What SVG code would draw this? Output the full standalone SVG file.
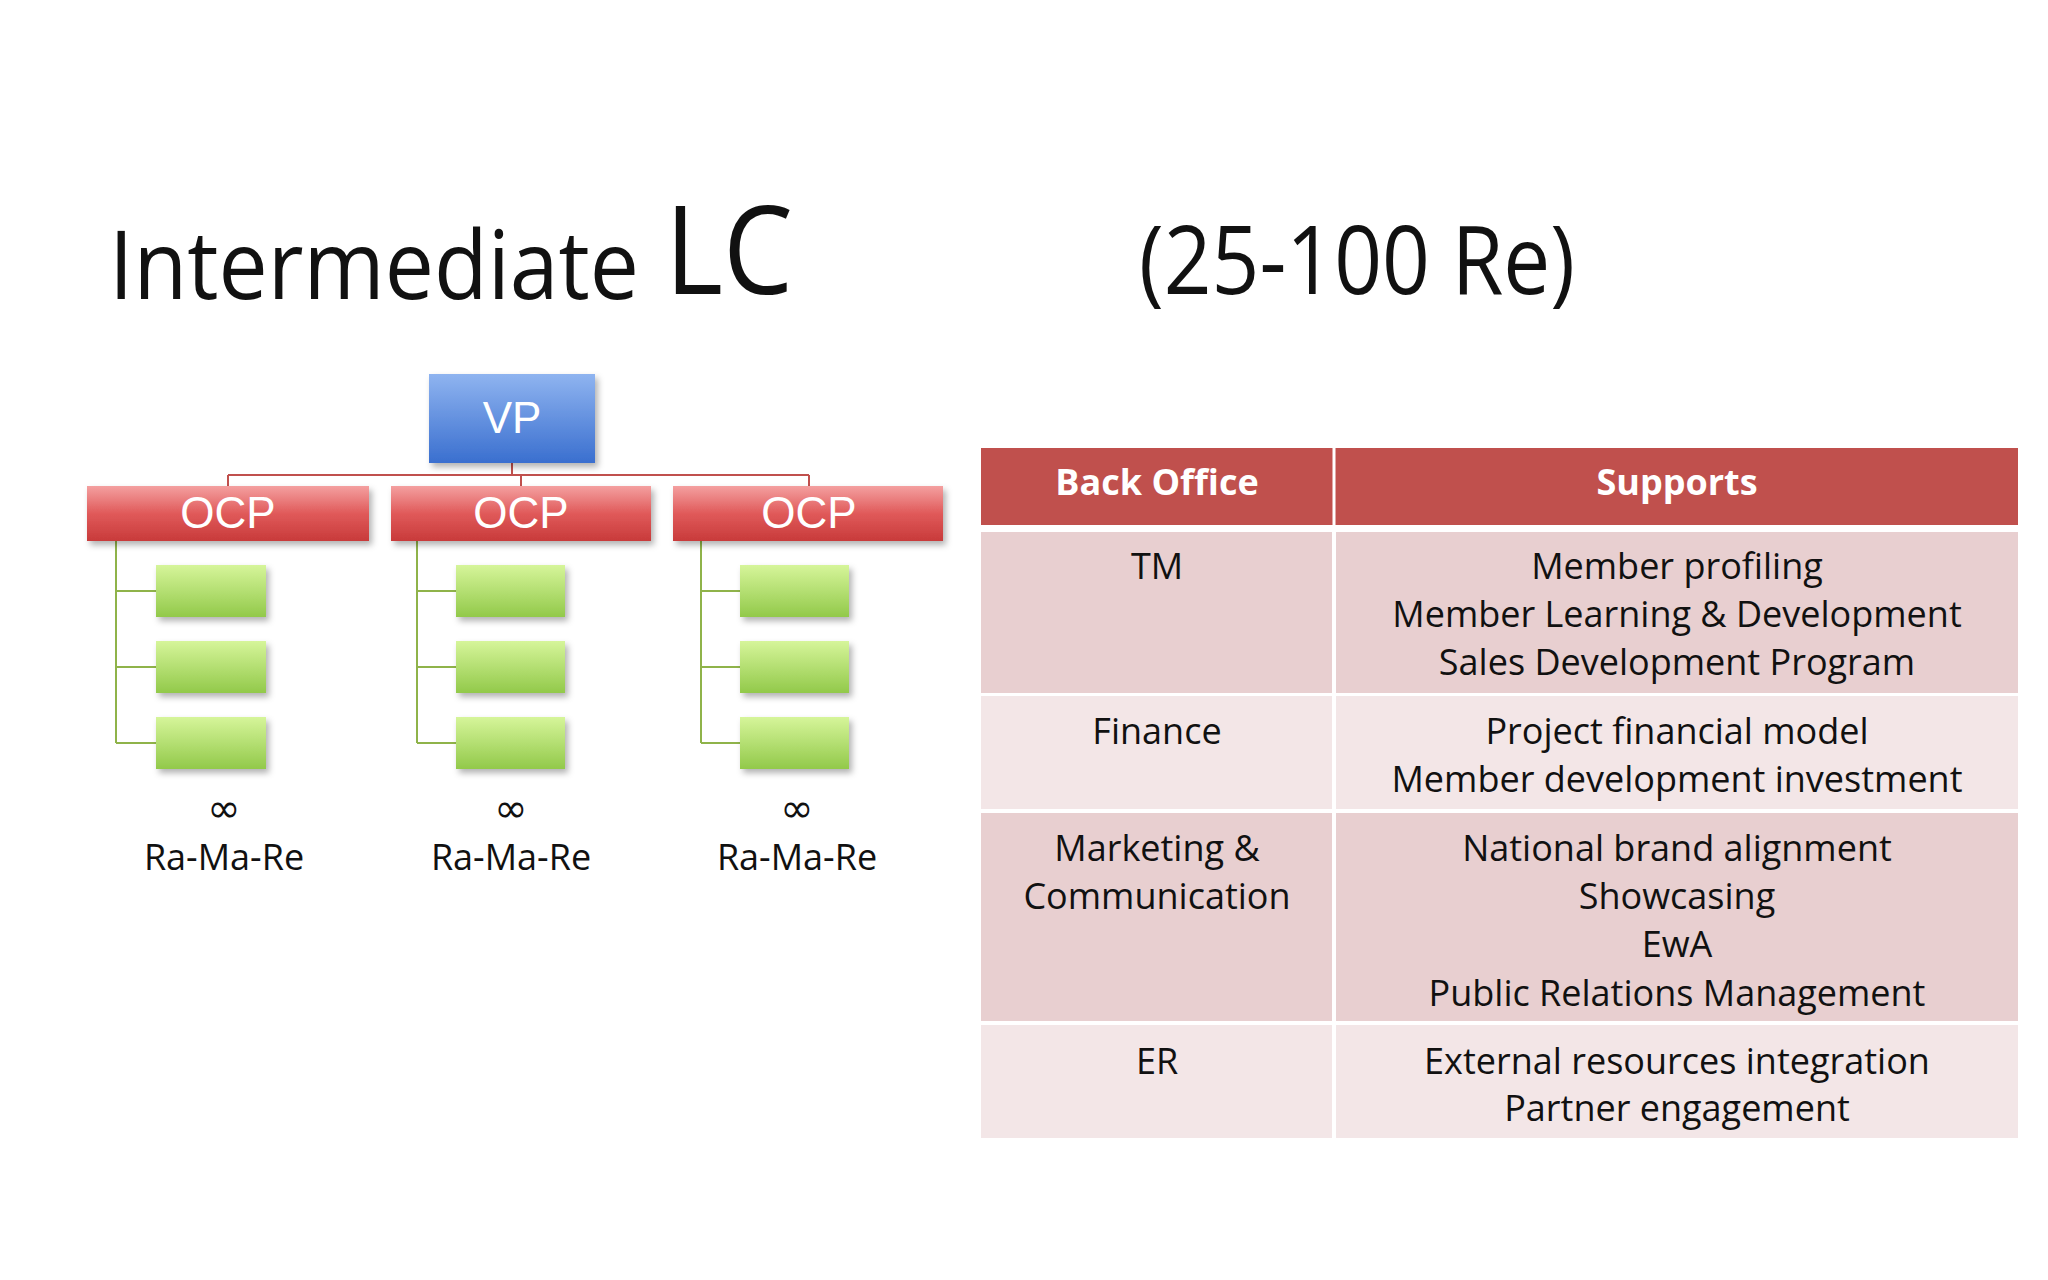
<svg xmlns="http://www.w3.org/2000/svg" width="2048" height="1280" viewBox="0 0 2048 1280">
<defs>
<linearGradient id="blue" x1="0" y1="0" x2="0" y2="1"><stop offset="0" stop-color="#8fb4f0"/><stop offset="1" stop-color="#3a6fcf"/></linearGradient>
<linearGradient id="red" x1="0" y1="0" x2="0" y2="1"><stop offset="0" stop-color="#f4a0a0"/><stop offset="0.5" stop-color="#e05a5a"/><stop offset="1" stop-color="#c83a3a"/></linearGradient>
<linearGradient id="green" x1="0" y1="0" x2="0" y2="1"><stop offset="0" stop-color="#d6f59a"/><stop offset="1" stop-color="#92c94a"/></linearGradient>
<filter id="sh" x="-10%" y="-10%" width="130%" height="140%"><feDropShadow dx="3" dy="4" stdDeviation="3" flood-opacity="0.3"/></filter>
</defs>
<style>
text{font-family:"Open Sans","Liberation Sans",sans-serif;fill:#111}
.box{font-family:"Liberation Sans",sans-serif;fill:#fff;font-size:44px;text-anchor:middle}
.t{font-size:36px;text-anchor:middle}
.inf{font-family:"DejaVu Sans",sans-serif;font-size:40px;text-anchor:middle}
.h{font-size:36px;text-anchor:middle;font-weight:bold;fill:#fff}
.g{fill:url(#green);filter:url(#sh)}
.ln{stroke:#8fb34a;stroke-width:2;fill:none}
</style>
<rect width="2048" height="1280" fill="#fff"/>
<text x="109" y="299" font-size="95" textLength="530" lengthAdjust="spacingAndGlyphs">Intermediate</text>
<text x="665" y="294" font-size="122" textLength="128" lengthAdjust="spacingAndGlyphs">LC</text>
<text x="1139" y="294" font-size="95" textLength="436" lengthAdjust="spacingAndGlyphs">(25-100 Re)</text>
<g id="connectors">
<path d="M512 463V475M228 475H809M228 475V486M521 475V486M809 475V486" stroke="#c0504d" stroke-width="2" fill="none"/>
<path class="ln" d="M116 541V743M116 591H156M116 667H156M116 743H156"/>
<path class="ln" d="M417 541V743M417 591H456M417 667H456M417 743H456"/>
<path class="ln" d="M701 541V743M701 591H740M701 667H740M701 743H740"/>
</g>
<g id="vp"><rect x="429" y="374" width="166" height="89" fill="url(#blue)" filter="url(#sh)"/><text class="box" x="512" y="433">VP</text></g>
<g id="ocp1"><rect x="87" y="486" width="282" height="55" fill="url(#red)" filter="url(#sh)"/><text class="box" x="228" y="528">OCP</text></g>
<g id="ocp2"><rect x="391" y="486" width="260" height="55" fill="url(#red)" filter="url(#sh)"/><text class="box" x="521" y="528">OCP</text></g>
<g id="ocp3"><rect x="673" y="486" width="270" height="55" fill="url(#red)" filter="url(#sh)"/><text class="box" x="809" y="528">OCP</text></g>
<g id="greens">
<rect class="g" x="156" y="565" width="110" height="52"/><rect class="g" x="156" y="641" width="110" height="52"/><rect class="g" x="156" y="717" width="110" height="52"/>
<rect class="g" x="456" y="565" width="109" height="52"/><rect class="g" x="456" y="641" width="109" height="52"/><rect class="g" x="456" y="717" width="109" height="52"/>
<rect class="g" x="740" y="565" width="109" height="52"/><rect class="g" x="740" y="641" width="109" height="52"/><rect class="g" x="740" y="717" width="109" height="52"/>
</g>
<g id="labels">
<text class="inf" x="224" y="822">∞</text><text class="t" x="224" y="870">Ra-Ma-Re</text>
<text class="inf" x="511" y="822">∞</text><text class="t" x="511" y="870">Ra-Ma-Re</text>
<text class="inf" x="797" y="822">∞</text><text class="t" x="797" y="870">Ra-Ma-Re</text>
</g>
<g id="table">
<rect x="981" y="448" width="1037" height="77" fill="#c0504d"/>
<line x1="1334" y1="448" x2="1334" y2="1138" stroke="#fff" stroke-width="3"/>
<rect x="981" y="532" width="351" height="161" fill="#e8cfd0"/><rect x="1336" y="532" width="682" height="161" fill="#e8cfd0"/>
<rect x="981" y="696" width="351" height="113" fill="#f3e6e7"/><rect x="1336" y="696" width="682" height="113" fill="#f3e6e7"/>
<rect x="981" y="813" width="351" height="208" fill="#e8cfd0"/><rect x="1336" y="813" width="682" height="208" fill="#e8cfd0"/>
<rect x="981" y="1025" width="351" height="113" fill="#f3e6e7"/><rect x="1336" y="1025" width="682" height="113" fill="#f3e6e7"/>
<text class="h" x="1157" y="495">Back Office</text><text class="h" x="1677" y="495">Supports</text>
<text class="t" x="1157" y="579">TM</text>
<text class="t" x="1677" y="579">Member profiling</text><text class="t" x="1677" y="627">Member Learning &amp; Development</text><text class="t" x="1677" y="675">Sales Development Program</text>
<text class="t" x="1157" y="744">Finance</text>
<text class="t" x="1677" y="744">Project financial model</text><text class="t" x="1677" y="792">Member development investment</text>
<text class="t" x="1157" y="861">Marketing &amp;</text><text class="t" x="1157" y="909">Communication</text>
<text class="t" x="1677" y="861">National brand alignment</text><text class="t" x="1677" y="909">Showcasing</text><text class="t" x="1677" y="957">EwA</text><text class="t" x="1677" y="1006">Public Relations Management</text>
<text class="t" x="1157" y="1074">ER</text>
<text class="t" x="1677" y="1074">External resources integration</text><text class="t" x="1677" y="1121">Partner engagement</text>
</g>
</svg>
